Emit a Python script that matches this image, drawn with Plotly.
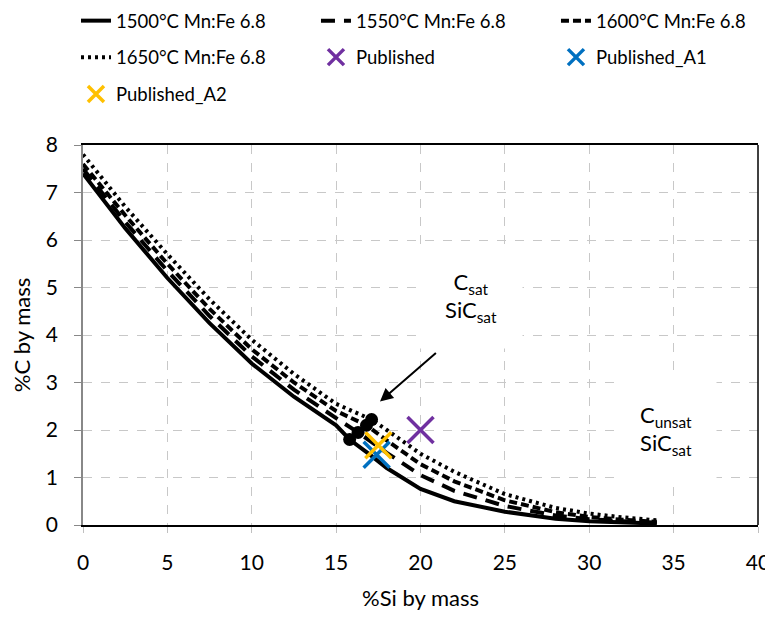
import plotly.graph_objects as go

# --- data ---
si_1500 = [0, 2.5, 5, 7.5, 10, 12.5, 15, 15.8, 17, 18, 20, 22, 25, 28, 30, 32, 34]
c_1500 = [7.4, 6.25, 5.2, 4.25, 3.4, 2.7, 2.1, 1.8, 1.48, 1.2, 0.76, 0.5, 0.28, 0.13, 0.08, 0.05, 0.03]

si_1550 = [0, 2.5, 5, 7.5, 10, 12.5, 15, 16.3, 18, 20, 22, 25, 28, 30, 32, 34]
c_1550 = [7.5, 6.38, 5.35, 4.4, 3.55, 2.85, 2.25, 1.95, 1.52, 1.05, 0.72, 0.4, 0.2, 0.12, 0.08, 0.05]

si_1600 = [0, 2.5, 5, 7.5, 10, 12.5, 15, 16.8, 18, 20, 22, 25, 28, 30, 32, 34]
c_1600 = [7.6, 6.52, 5.5, 4.55, 3.7, 3.0, 2.4, 2.1, 1.78, 1.28, 0.92, 0.52, 0.27, 0.17, 0.11, 0.07]

si_1650 = [0, 2.5, 5, 7.5, 10, 12.5, 15, 17.1, 18, 20, 22, 25, 28, 30, 32, 34]
c_1650 = [7.8, 6.7, 5.7, 4.75, 3.9, 3.18, 2.55, 2.22, 2.0, 1.5, 1.12, 0.65, 0.36, 0.24, 0.16, 0.1]

end_si = [15.8, 16.3, 16.8, 17.1]
end_c = [1.8, 1.95, 2.1, 2.22]

pub_si = [20.0]
pub_c = [2.0]
pubA1_si = [17.4]
pubA1_c = [1.48]
pubA2_si = [17.5]
pubA2_c = [1.68]

x_ticks = [0, 5, 10, 15, 20, 25, 30, 35, 40]
y_ticks = [0, 1, 2, 3, 4, 5, 6, 7, 8]

FONT = "Lato, Open Sans, sans-serif"
LW = 4

fig = go.Figure()
fig.add_trace(go.Scatter(x=si_1500, y=c_1500, mode="lines", name="1500°C Mn:Fe 6.8", legend="legend",
                         line=dict(color="black", width=LW, dash="solid")))
fig.add_trace(go.Scatter(x=si_1550, y=c_1550, mode="lines", name="1550°C Mn:Fe 6.8", legend="legend",
                         line=dict(color="black", width=LW, dash="14px,9px")))
fig.add_trace(go.Scatter(x=si_1600, y=c_1600, mode="lines", name="1600°C Mn:Fe 6.8", legend="legend",
                         line=dict(color="black", width=LW, dash="8px,4px")))
fig.add_trace(go.Scatter(x=si_1650, y=c_1650, mode="lines", name="1650°C Mn:Fe 6.8", legend="legend2",
                         line=dict(color="black", width=LW, dash="3px,4px")))
fig.add_trace(go.Scatter(x=pub_si, y=pub_c, mode="markers", name="Published", legend="legend2",
                         marker=dict(symbol="x-thin", size=26, line=dict(color="#7030A0", width=3.5))))
fig.add_trace(go.Scatter(x=pubA1_si, y=pubA1_c, mode="markers", name="Published_A1", legend="legend2",
                         marker=dict(symbol="x-thin", size=26, line=dict(color="#0070C0", width=3.5))))
fig.add_trace(go.Scatter(x=pubA2_si, y=pubA2_c, mode="markers", name="Published_A2", legend="legend3",
                         marker=dict(symbol="x-thin", size=26, line=dict(color="#FFC000", width=3.5))))
fig.add_trace(go.Scatter(x=end_si, y=end_c, mode="markers", showlegend=False,
                         marker=dict(symbol="circle", size=13, color="black")))

fig.add_annotation(x=17.6, y=2.6, ax=21.0, ay=3.65, xref="x", yref="y", axref="x", ayref="y",
                   text="", showarrow=True, arrowhead=2, arrowsize=1.3, arrowwidth=2, arrowcolor="black")
fig.add_annotation(x=23.0, y=4.8, xref="x", yref="y",
                   text="C<sub>sat</sub><br>SiC<sub>sat</sub>", showarrow=False,
                   width=100, height=100, valign="middle", align="center",
                   bgcolor="white", font=dict(family=FONT, size=22, color="black"))
fig.add_annotation(x=34.55, y=2.0, xref="x", yref="y",
                   text="C<sub>unsat</sub><br>SiC<sub>sat</sub>", showarrow=False,
                   width=98, height=104, valign="middle", align="center",
                   bgcolor="white", font=dict(family=FONT, size=22, color="black"))

# right border of the plot frame
fig.add_shape(type="line", xref="paper", yref="paper", x0=1, x1=1, y0=0, y1=1,
              line=dict(color="black", width=1.5))

leg_common = dict(orientation="h", x=-0.0104, xanchor="left", yanchor="middle",
                  entrywidth=195, entrywidthmode="pixels",
                  font=dict(family=FONT, size=18.5, color="black"), bgcolor="rgba(0,0,0,0)")

# the page body adds an 8px offset, so the figure is 8px smaller than the window
fig.update_layout(
    width=765, height=609,
    margin=dict(l=75, r=15, t=137, b=92, autoexpand=False),
    paper_bgcolor="white", plot_bgcolor="white",
    font=dict(family=FONT, size=18, color="black"),
    showlegend=True,
    legend=dict(y=1.326, **leg_common),
    legend2=dict(y=1.23, **leg_common),
    legend3=dict(y=1.133, **leg_common),
    xaxis=dict(range=[0, 40], tickvals=x_ticks, ticktext=[str(v) for v in x_ticks],
               showgrid=True, gridcolor="#c8c8c8", griddash="dash", gridwidth=1,
               showline=True, linecolor="black", linewidth=1.5, mirror=True,
               ticks="outside", ticklen=6, tickcolor="#c0c0c0", zeroline=False,
               ticklabeloverflow="allow", ticklabelstandoff=12, automargin=False,
               tickfont=dict(size=21),
               title=dict(text="%Si by mass", font=dict(size=22), standoff=18)),
    yaxis=dict(range=[0, 8], tickvals=y_ticks, ticktext=[str(v) for v in y_ticks],
               showgrid=True, gridcolor="#c8c8c8", griddash="dash", gridwidth=1,
               showline=True, linecolor="#888888", linewidth=1.5,
               ticks="outside", ticklen=7, tickcolor="#888888", zeroline=False,
               ticklabelstandoff=12, automargin=False,
               tickfont=dict(size=21),
               title=dict(text="%C by mass", font=dict(size=22), standoff=10)),
)

fig.write_html("out.html")
